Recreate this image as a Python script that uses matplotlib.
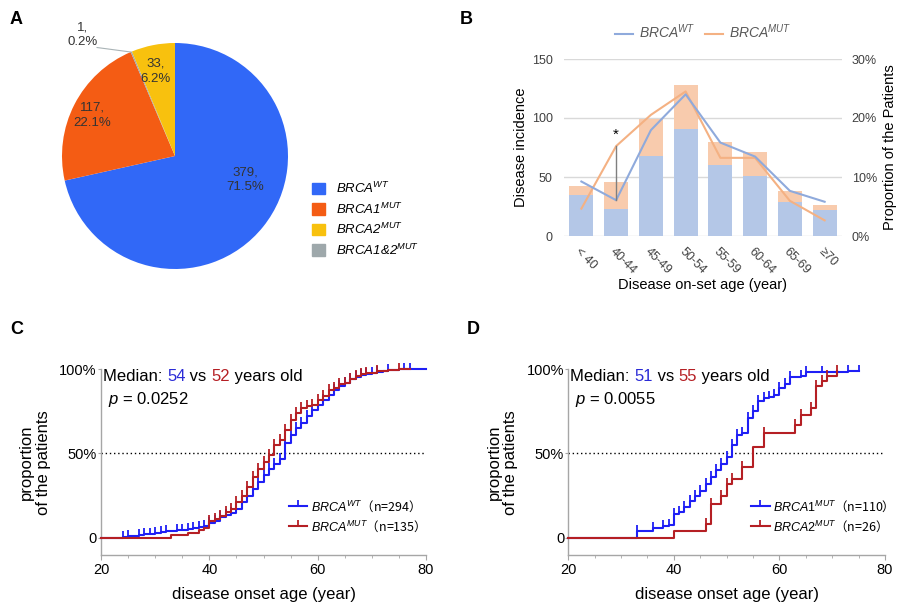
import numpy as np
import matplotlib
matplotlib.use("Agg")
import matplotlib.pyplot as plt
from matplotlib.lines import Line2D
from matplotlib.patches import Patch
from matplotlib.path import Path
from matplotlib.ticker import MultipleLocator
from matplotlib.font_manager import FontProperties

plt.rcParams["font.family"] = ["Liberation Sans", "Noto Sans CJK SC", "DejaVu Sans"]
plt.rcParams["mathtext.fontset"] = "custom"
plt.rcParams["mathtext.rm"] = "Liberation Sans"
plt.rcParams["mathtext.it"] = "Liberation Sans:italic"
plt.rcParams["mathtext.bf"] = "Liberation Sans:bold"

# ---- data: panel A (pie)
group_labels = ["BRCA$^{WT}$", "BRCA1$^{MUT}$", "BRCA2$^{MUT}$", "BRCA1&2$^{MUT}$"]
group_counts = [379, 117, 33, 1]
group_pcts = ["71.5%", "22.1%", "6.2%", "0.2%"]
group_colors = ["#3168f7", "#f45c14", "#f8c10e", "#9ea8ab"]
pie_order = [0, 1, 3, 2]  # clockwise from 12 o'clock

# ---- data: panel B (bars + proportions)
age_groups = ["< 40", "40-44", "45-49", "50-54", "55-59", "60-64", "65-69", "≥70"]
wt_counts = [35, 23, 68, 91, 60, 51, 29, 22]
mut_counts = [7, 23, 31, 37, 20, 20, 9, 4]

# ---- data: panel C (cumulative onset, WT vs MUT)
wt_ages = [24, 25, 27, 28, 29, 30, 31, 32, 34, 35, 36, 37, 38, 39, 40, 41, 42, 43, 44, 45,
           46, 47, 48, 49, 50, 51, 52, 53, 54, 55, 56, 57, 58, 59, 60, 61, 62, 63, 64, 65,
           66, 67, 68, 69, 70, 71, 72, 73, 75, 80]
wt_prop = [0.005, 0.01, 0.014, 0.02, 0.024, 0.03, 0.034, 0.04, 0.044, 0.048, 0.052, 0.058,
           0.064, 0.07, 0.085, 0.10, 0.12, 0.135, 0.145, 0.17, 0.21, 0.25, 0.29, 0.33, 0.37,
           0.41, 0.44, 0.47, 0.56, 0.61, 0.65, 0.68, 0.72, 0.76, 0.79, 0.82, 0.85, 0.88, 0.90,
           0.92, 0.94, 0.955, 0.965, 0.975, 0.98, 0.985, 0.99, 0.995, 1.0, 1.0]
wt_cens = [24, 25, 27, 28, 29, 30, 31, 32, 34, 35, 36, 37, 38, 39, 40, 41, 42, 43, 44, 45,
           46, 47, 48, 49, 50, 51, 52, 53, 54, 55, 56, 57, 58, 59, 60, 61, 62, 63, 64, 65,
           66, 67, 68, 69, 70, 71, 73, 76, 77]

mut_ages = [33, 36, 38, 39, 40, 41, 42, 43, 44, 45, 46, 47, 48, 49, 50, 51, 52, 53, 54, 55,
            56, 57, 58, 59, 60, 61, 62, 63, 64, 65, 66, 67, 68, 69, 71, 73, 75, 77]
mut_prop = [0.015, 0.03, 0.045, 0.055, 0.10, 0.11, 0.13, 0.15, 0.17, 0.21, 0.25, 0.30, 0.36,
            0.41, 0.45, 0.49, 0.55, 0.58, 0.64, 0.70, 0.74, 0.77, 0.78, 0.79, 0.82, 0.84,
            0.88, 0.89, 0.91, 0.92, 0.94, 0.96, 0.97, 0.98, 0.99, 0.995, 1.0, 1.0]
mut_cens = [40, 41, 42, 43, 44, 45, 46, 47, 48, 49, 50, 51, 52, 53, 54, 55, 56, 57, 58, 59,
            60, 61, 62, 63, 64, 65, 66, 67, 68, 69, 71, 75]

# ---- data: panel D (BRCA1 vs BRCA2)
b1_ages = [33, 36, 38, 39, 40, 41, 42, 43, 44, 45, 46, 47, 48, 49, 50, 51, 52, 53, 54, 55,
           56, 57, 58, 59, 60, 61, 62, 64, 65, 73, 75]
b1_prop = [0.04, 0.055, 0.07, 0.075, 0.14, 0.155, 0.185, 0.215, 0.25, 0.28, 0.32, 0.36,
           0.40, 0.44, 0.48, 0.55, 0.61, 0.62, 0.71, 0.75, 0.81, 0.83, 0.835, 0.85, 0.89,
           0.91, 0.955, 0.96, 0.985, 0.99, 0.99]
b1_cens = [33, 36, 38, 39, 40, 41, 42, 43, 44, 45, 46, 47, 48, 49, 50, 51, 52, 53, 54, 55,
           56, 57, 58, 59, 60, 61, 62, 64, 65, 68, 73, 75]

b2_ages = [40, 46, 47, 49, 50, 51, 53, 55, 57, 63, 64, 66, 67, 68, 69, 71]
b2_prop = [0.04, 0.08, 0.20, 0.25, 0.32, 0.35, 0.42, 0.54, 0.62, 0.67, 0.73, 0.77, 0.90,
           0.93, 0.96, 0.99]
b2_cens = [46, 47, 49, 50, 51, 53, 57, 63, 64, 66, 67, 68, 69, 71]

W, H = 898, 606
fig = plt.figure(figsize=(W / 100, H / 100), dpi=100)


def px_axes(l, t, r, b):
    return fig.add_axes([l / W, 1 - b / H, (r - l) / W, (b - t) / H])


# ================= A
axA = px_axes(39.4, 20.4, 310.6, 291.6)
axA.pie([group_counts[i] for i in pie_order],
        colors=[group_colors[i] for i in pie_order],
        startangle=90, counterclock=False, radius=1,
        wedgeprops=dict(linewidth=0))
axA.set_xlim(-1.2, 1.2)
axA.set_ylim(-1.2, 1.2)
axA.set_aspect("equal")

lab_pos = {0: (0.62, -0.21), 1: (-0.73, 0.36), 2: (-0.17, 0.75)}
for i, (x, y) in lab_pos.items():
    axA.text(x, y, f"{group_counts[i]},\n{group_pcts[i]}", ha="center", va="center",
             fontsize=9.5, color="#333333", linespacing=1.3)
axA.plot([-0.39, -0.69], [0.92, 0.96], color="#a9b3b6", lw=0.8)
axA.text(-0.82, 0.96, f"{group_counts[3]},\n{group_pcts[3]}", ha="center", va="bottom",
         fontsize=9.5, color="#333333", linespacing=1.2)

handles = [Patch(color=c) for c in group_colors]
fig.legend(handles, group_labels, loc="upper left", bbox_to_anchor=(312 / W, 1 - 181 / H),
           frameon=False, prop=FontProperties(size=9.5, style="italic"),
           handlelength=0.95, handleheight=0.95,
           handletextpad=0.85, labelspacing=0.4, borderpad=0, borderaxespad=0)
fig.text(10 / W, 1 - 20 / H, "A", fontsize=13, fontweight="bold", va="center")

# ================= B
axB = px_axes(564, 59, 842, 236)
x = np.arange(len(age_groups))
axB.bar(x, wt_counts, width=0.69, color="#b4c7e7", zorder=2)
axB.bar(x, mut_counts, width=0.69, bottom=wt_counts, color="#f8cbad", zorder=2)
axB.set_xlim(-0.5, len(age_groups) - 0.5)
axB.set_ylim(0, 150)
axB.set_yticks([0, 50, 100, 150])
axB.yaxis.grid(True, color="#d9d9d9", lw=1, zorder=0)
axB.set_axisbelow(True)
for s in axB.spines.values():
    s.set_visible(False)
axB.tick_params(length=0, labelsize=9, colors="#404040")
axB.tick_params(axis="y", pad=8)
axB.set_xticks(x)
axB.set_xticklabels(age_groups, rotation=-45, ha="left", va="top", rotation_mode="anchor")
axB.tick_params(axis="x", pad=7)
axB.set_xlabel("Disease on-set age (year)", fontsize=10.5, labelpad=1)
axB.set_ylabel("Disease incidence", fontsize=10.5, labelpad=3)

wt_share = np.array(wt_counts) / sum(wt_counts)
mut_share = np.array(mut_counts) / sum(mut_counts)
axB2 = axB.twinx()
axB2.set_ylim(0, 0.30)
axB2.set_yticks([0, 0.1, 0.2, 0.3])
axB2.set_yticklabels(["0%", "10%", "20%", "30%"])
for s in axB2.spines.values():
    s.set_visible(False)
axB2.tick_params(length=0, labelsize=9, colors="#404040", pad=7)
axB2.set_ylabel("Proportion of the Patients", fontsize=10.5, labelpad=4)
axB2.plot(x, mut_share, color="#f4b183", lw=1.5)
axB2.plot(x, wt_share, color="#8faadc", lw=1.5)
axB2.plot([1, 1], [wt_share[1], mut_share[1]], color="#7f7f7f", lw=1)
axB2.text(1, mut_share[1] + 0.008, "*", ha="center", va="bottom", fontsize=11)
axB.legend([Line2D([], [], color="#8faadc", lw=1.5), Line2D([], [], color="#f4b183", lw=1.5)],
           ["BRCA$^{WT}$", "BRCA$^{MUT}$"], loc="lower center",
           bbox_to_anchor=(0.5, 1.06), ncol=2, frameon=False,
           prop=FontProperties(size=10, style="italic"),
           handlelength=1.3, handletextpad=0.4, columnspacing=0.7, borderpad=0,
           labelcolor="#595959")
fig.text(460 / W, 1 - 20 / H, "B", fontsize=13, fontweight="bold", va="center")

# ================= C / D
tick = Path([(0, 0), (0, 1)], [Path.MOVETO, Path.LINETO])
blue, red = "#1f1ff5", "#b51f24"


def km(ax, ages, props, cens, color):
    xs = np.r_[20, ages]
    ys = np.r_[0, props]
    ax.step(xs, ys, where="post", color=color, lw=1.5, clip_on=False, zorder=3)
    idx = np.searchsorted(xs, cens, side="right") - 1
    ax.plot(cens, ys[idx], ls="none", marker=tick, ms=8, mew=1.3, color=color,
            clip_on=False, zorder=3)


def style_km(ax):
    ax.set_xlim(20, 80)
    ax.set_ylim(-0.103, 1.0)
    ax.set_xticks([20, 40, 60, 80])
    ax.xaxis.set_minor_locator(MultipleLocator(5))
    ax.set_yticks([0, 0.5, 1.0])
    ax.set_yticklabels(["0", "50%", "100%"])
    for s in ["top", "right"]:
        ax.spines[s].set_visible(False)
    for s in ["left", "bottom"]:
        ax.spines[s].set_color("#a6a6a6")
        ax.spines[s].set_linewidth(1)
    ax.tick_params(axis="x", which="major", length=3.6, color="#a6a6a6", labelsize=10.5, pad=2)
    ax.tick_params(axis="x", which="minor", length=2.2, color="#a6a6a6")
    ax.tick_params(axis="y", which="major", length=2, color="#a6a6a6", labelsize=10.5, pad=1)
    ax.axhline(0.5, color="black", lw=1, ls=(0, (1, 2)), zorder=1)
    ax.set_xlabel("disease onset age (year)", fontsize=12, labelpad=7)
    ax.set_ylabel("proportion\nof the patients", fontsize=12, labelpad=6, linespacing=1.15)


def median_text(ax, a, b, p):
    t = ax.text(0.006, 0.96, "Median: ", transform=ax.transAxes, fontsize=12, va="center")
    t = ax.annotate(a, xy=(1, 0), xycoords=t, va="bottom", fontsize=12, color="#2b2bd6")
    t = ax.annotate(" vs ", xy=(1, 0), xycoords=t, va="bottom", fontsize=12)
    t = ax.annotate(b, xy=(1, 0), xycoords=t, va="bottom", fontsize=12, color="#b51f24")
    ax.annotate(" years old", xy=(1, 0), xycoords=t, va="bottom", fontsize=12)
    ax.text(0.02, 0.835, r"$p$ = " + p, transform=ax.transAxes, fontsize=12, va="center")


legprop = FontProperties(family="Noto Sans CJK SC", size=9)

axC = px_axes(101, 369.3, 426, 555)
style_km(axC)
km(axC, wt_ages, wt_prop, wt_cens, blue)
km(axC, mut_ages, mut_prop, mut_cens, red)
median_text(axC, "54", "52", "0.0252")
axC.legend([Line2D([], [], color=blue, lw=1.5, marker=tick, ms=8, mew=1.3),
            Line2D([], [], color=red, lw=1.5, marker=tick, ms=8, mew=1.3)],
           [r"$BRCA^{WT}$（n=294）", r"$BRCA^{MUT}$（n=135）"],
           loc="lower right", bbox_to_anchor=(1.0, 0.08), frameon=False, prop=legprop,
           handlelength=1.5, handletextpad=0.3, labelspacing=0.35, borderpad=0)
fig.text(10 / W, 1 - 330 / H, "C", fontsize=13, fontweight="bold", va="center")

axD = px_axes(568.3, 369.3, 885, 555)
style_km(axD)
km(axD, b1_ages, b1_prop, b1_cens, blue)
km(axD, b2_ages, b2_prop, b2_cens, red)
median_text(axD, "51", "55", "0.0055")
axD.legend([Line2D([], [], color=blue, lw=1.5, marker=tick, ms=8, mew=1.3),
            Line2D([], [], color=red, lw=1.5, marker=tick, ms=8, mew=1.3)],
           [r"$BRCA1^{MUT}$（n=110）", r"$BRCA2^{MUT}$（n=26）"],
           loc="lower right", bbox_to_anchor=(1.03, 0.08), frameon=False, prop=legprop,
           handlelength=1.5, handletextpad=0.3, labelspacing=0.35, borderpad=0)
fig.text(467 / W, 1 - 330 / H, "D", fontsize=13, fontweight="bold", va="center")

fig.savefig("out.png", dpi=100)
